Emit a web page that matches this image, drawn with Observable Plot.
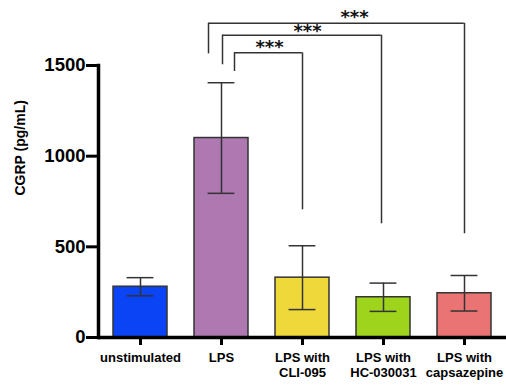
<!DOCTYPE html>
<html>
<head>
<meta charset="utf-8">
<script src="https://cdn.jsdelivr.net/npm/d3@7"></script>
<script src="https://cdn.jsdelivr.net/npm/@observablehq/plot@0.6"></script>
<style>
  html, body { margin: 0; padding: 0; background: #fff; }
  #chart svg { display: block; }
</style>
</head>
<body>
<div id="chart"></div>
<script>
// ---- data ----
const categories = ["unstimulated", "LPS", "LPS with CLI-095", "LPS with HC-030031", "LPS with capsazepine"];
const tickLabels = ["unstimulated", "LPS", "LPS with\nCLI-095", "LPS with\nHC-030031", "LPS with\ncapsazepine"];
const means = [280, 1100, 330, 222, 244];
const sds = [50, 305, 176, 78, 98];
const yTicks = [0, 500, 1000, 1500];
const colors = ["#0a44f4", "#ad79b0", "#eed83a", "#9fd41d", "#ea7373"];

// significance brackets (data units)
const bracketFrom = ["LPS", "LPS", "LPS"];
const bracketTo = ["LPS with CLI-095", "LPS with HC-030031", "LPS with capsazepine"];
const bracketTop = [1570, 1667, 1733];
const bracketLeftEnd = [1467, 1504, 1564];
const bracketRightEnd = [704, 627, 572];
const bracketLabel = ["***", "***", "***"];

// ---- build ----
const rows = categories.map((c, i) => ({cat: c, mean: means[i], sd: sds[i]}));
const brackets = bracketFrom.map((f, i) => ({
  from: f, to: bracketTo[i], top: bracketTop[i],
  leftEnd: bracketLeftEnd[i], rightEnd: bracketRightEnd[i], label: bracketLabel[i]
}));

const W = 506, H = 389;
const mL = 98, mR = 0, mT = 65, mB = 52;
const pIn = 0.33, pOut = 0.18;
const step = (W - mL - mR) / (categories.length - pIn + 2 * pOut);
const bw = step * (1 - pIn);

// pixel offsets of bracket legs / stars (style)
const leftOff = [13, 1, -13];
const rightOff = [0, -2, 0];
const starDx = [-33, 5, -110];
const starDy = [-6, -4, -6];
const starX = ["LPS with CLI-095", "LPS with CLI-095", "LPS with capsazepine"];

const bracketMarks = [];
brackets.forEach((b, i) => {
  const d = [b];
  bracketMarks.push(
    Plot.ruleX(d, {x: "from", y1: "leftEnd", y2: "top", dx: leftOff[i], stroke: "#333", strokeWidth: 1.5}),
    Plot.ruleX(d, {x: "to", y1: "rightEnd", y2: "top", dx: rightOff[i], stroke: "#333", strokeWidth: 1.5}),
    Plot.ruleY(d, {x1: "from", x2: "to", y: "top", insetLeft: bw / 2 + leftOff[i], insetRight: bw / 2 - rightOff[i], stroke: "#333", strokeWidth: 1.5}),
    Plot.text(d, {x: () => starX[i], y: "top", text: "label", dx: starDx[i], dy: starDy[i], fontSize: 18, fontFamily: "'DejaVu Sans', sans-serif", fontWeight: "bold", fill: "#111", lineAnchor: "middle"})
  );
});

const chart = Plot.plot({
  width: W,
  height: H,
  marginLeft: mL,
  marginRight: mR,
  marginTop: mT,
  marginBottom: mB,
  style: {fontFamily: "'Liberation Sans', Arial, Helvetica, sans-serif", fontWeight: "bold", background: "#fff", overflow: "visible", color: "#000"},
  x: {type: "band", domain: categories, paddingInner: pIn, paddingOuter: pOut},
  y: {domain: [0, 1500]},
  color: {domain: categories, range: colors},
  marks: [
    Plot.barY(rows, {x: "cat", y: "mean", fill: "cat", stroke: "#333", strokeWidth: 1.5}),
    Plot.ruleX(rows, {x: "cat", y1: d => d.mean - d.sd, y2: d => d.mean + d.sd, stroke: "#333", strokeWidth: 1.5}),
    Plot.tickY(rows, {x: "cat", y: d => d.mean + d.sd, insetLeft: bw / 4, insetRight: bw / 4, stroke: "#333", strokeWidth: 1.5}),
    Plot.tickY(rows, {x: "cat", y: d => d.mean - d.sd, insetLeft: bw / 4, insetRight: bw / 4, stroke: "#333", strokeWidth: 1.5}),
    Plot.frame({anchor: "left", stroke: "#000", strokeWidth: 3.5}),
    Plot.ruleY([0], {stroke: "#000", strokeWidth: 3.5}),
    Plot.axisY({ticks: yTicks, tickFormat: d => String(d), tickSize: 12, tickPadding: 1, strokeWidth: 3, stroke: "#000", fill: "#000", fontSize: 18.5, fontWeight: "bold", label: null}),
    Plot.axisX({tickFormat: d => tickLabels[categories.indexOf(d)], tickSize: 8, tickPadding: 6, strokeWidth: 3, stroke: "#000", fill: "#000", fontSize: 13, fontWeight: "bold", lineHeight: 1.15, label: null}),
    Plot.text(["CGRP (pg/mL)"], {frameAnchor: "left", rotate: -90, dx: -78, dy: -6, fontSize: 14, fontWeight: "bold", fill: "#000"}),
    ...bracketMarks
  ]
});
document.getElementById("chart").appendChild(chart);
</script>
</body>
</html>
